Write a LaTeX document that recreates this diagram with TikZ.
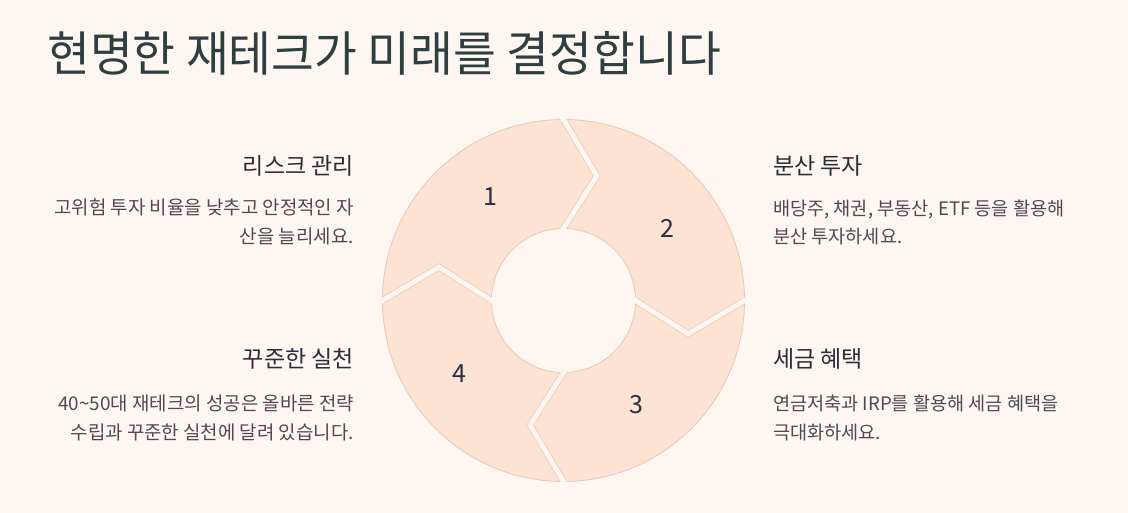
\documentclass[tikz,border=0pt]{standalone}
\usepackage{fontspec}
\setmainfont{Noto Sans CJK KR}
\newfontfamily\titlefont[FakeStretch=0.97]{Noto Sans CJK KR}
\usetikzlibrary{calc}
\definecolor{bgc}{HTML}{FEF7F1}
\definecolor{segfill}{HTML}{FCE3D3}
\definecolor{segline}{HTML}{E6C8B5}
\definecolor{titlec}{HTML}{2E3F41}
\definecolor{headc}{HTML}{2B2C3A}
\definecolor{bodyc}{HTML}{4A4B55}
\definecolor{numc}{HTML}{2B2D42}
\begin{document}
\begin{tikzpicture}[x=1pt,y=1pt,
  titlestyle/.style={inner sep=0pt,text=titlec,font=\titlefont\fontsize{48}{56}\selectfont},
  headR/.style={inner sep=0pt,anchor=base east,text=headc,font=\fontsize{23}{27}\selectfont},
  headL/.style={inner sep=0pt,anchor=base west,text=headc,font=\fontsize{23}{27}\selectfont},
  bodyR/.style={inner sep=0pt,anchor=base east,text=bodyc,font=\fontsize{18.9}{22}\selectfont},
  bodyL/.style={inner sep=0pt,anchor=base west,text=bodyc,font=\fontsize{18.6}{22}\selectfont},
  numstyle/.style={inner sep=0pt,text=numc,font=\fontsize{25}{29}\selectfont},
  gapborder/.style={draw=segline,line width=6.4pt,line join=miter},
  gapfill/.style={draw=bgc,line width=5pt,line join=miter,shorten <=-4pt,shorten >=-4pt}]
\fill[bgc] (0,0) rectangle (1128,513);
\useasboundingbox (0,0) rectangle (1128,513);
% title
\node[titlestyle,anchor=base west] (title) at (47,441) {현명한 재테크가 미래를 결정합니다};
% ring
\coordinate (C) at (563.5,212.5);
\fill[segfill,even odd rule] (C) circle[radius=181pt] (C) circle[radius=72pt];
\draw[segline,line width=0.8pt] (C) circle[radius=181pt];
\draw[segline,line width=0.8pt] (C) circle[radius=72pt];
\foreach \t in {90,0,-90,180}{
  \begin{scope}
    \clip ($(C)+(0:181pt)$) arc[start angle=0,end angle=360,radius=181pt]
          -- ($(C)+(0:72pt)$) arc[start angle=360,end angle=0,radius=72pt] -- cycle;
    \draw[gapborder] ($(C)+(\t:181pt)$) -- ($(C)+(\t-15:129pt)$) -- ($(C)+(\t:72pt)$);
  \end{scope}
  \draw[gapfill] ($(C)+(\t:181pt)$) -- ($(C)+(\t-15:129pt)$) -- ($(C)+(\t:72pt)$);
}
% numbers
\node[numstyle] (n1) at (490,316) {1};
\node[numstyle] (n2) at (667,285) {2};
\node[numstyle] (n3) at (636,108) {3};
\node[numstyle] (n4) at (459,139) {4};
% left top
\node[headR] (h1) at (354,338) {리스크 관리};
\node[bodyR] (b1a) at (354,298) {고위험 투자 비율을 낮추고 안정적인 자};
\node[bodyR] (b1b) at (354,269) {산을 늘리세요.};
% right top
\node[headL] (h2) at (773,338) {분산 투자};
\node[bodyL] (b2a) at (773,297) {배당주, 채권, 부동산, ETF 등을 활용해};
\node[bodyL] (b2b) at (773,269) {분산 투자하세요.};
% right bottom
\node[headL] (h3) at (773,145) {세금 혜택};
\node[bodyL] (b3a) at (773,102) {연금저축과 IRP를 활용해 세금 혜택을};
\node[bodyL] (b3b) at (773,73) {극대화하세요.};
% left bottom
\node[headR] (h4) at (354,145) {꾸준한 실천};
\node[bodyR] (b4a) at (354,102) {40\textasciitilde50대 재테크의 성공은 올바른 전략};
\node[bodyR] (b4b) at (354,73) {수립과 꾸준한 실천에 달려 있습니다.};
\end{tikzpicture}
\end{document}
